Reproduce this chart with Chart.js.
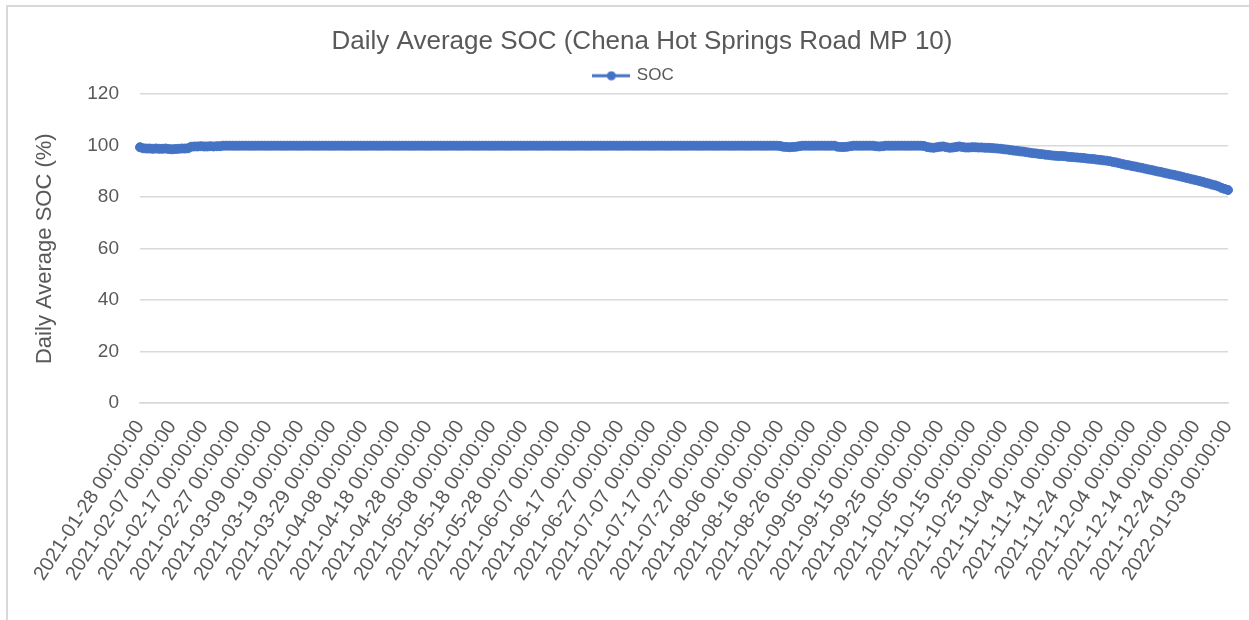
<!DOCTYPE html>
<html>
<head>
<meta charset="utf-8">
<title>Daily Average SOC</title>
<script src="https://cdn.jsdelivr.net/npm/chart.js@4.4.0/dist/chart.umd.min.js"></script>
<style>
  html, body { margin: 0; padding: 0; background: #fff; }
  #wrap { position: relative; width: 1249px; height: 620px; overflow: hidden; }
  #frame { position: absolute; left: 6px; top: 5px; width: 1300px; height: 700px;
           border: 2px solid #d9d9d9; pointer-events: none; }
</style>
</head>
<body>
<div id="wrap">
  <canvas id="socChart" width="1249" height="620"></canvas>
  <div id="frame"></div>
</div>
<script>
// daily average state of charge, one value per day from 2021-01-28
const startDay = [2021, 0, 28];
const soc = [
    99.4, 99.0, 98.9, 98.9, 98.8, 98.9, 98.8, 98.8, 98.9, 98.7,
    98.6, 98.7, 98.8, 98.9, 98.9, 99.0, 99.6, 99.7, 99.7, 99.8,
    99.7, 99.7, 99.8, 99.7, 99.8, 99.8, 100, 100, 100, 100,
    100, 100, 100, 100, 100, 100, 100, 100, 100, 100,
    100, 100, 100, 100, 100, 100, 100, 100, 100, 100,
    100, 100, 100, 100, 100, 100, 100, 100, 100, 100,
    100, 100, 100, 100, 100, 100, 100, 100, 100, 100,
    100, 100, 100, 100, 100, 100, 100, 100, 100, 100,
    100, 100, 100, 100, 100, 100, 100, 100, 100, 100,
    100, 100, 100, 100, 100, 100, 100, 100, 100, 100,
    100, 100, 100, 100, 100, 100, 100, 100, 100, 100,
    100, 100, 100, 100, 100, 100, 100, 100, 100, 100,
    100, 100, 100, 100, 100, 100, 100, 100, 100, 100,
    100, 100, 100, 100, 100, 100, 100, 100, 100, 100,
    100, 100, 100, 100, 100, 100, 100, 100, 100, 100,
    100, 100, 100, 100, 100, 100, 100, 100, 100, 100,
    100, 100, 100, 100, 100, 100, 100, 100, 100, 100,
    100, 100, 100, 100, 100, 100, 100, 100, 100, 100,
    100, 100, 100, 100, 100, 100, 100, 100, 100, 100,
    100, 100, 100, 100, 100, 100, 100, 100, 100, 100,
    99.9, 99.6, 99.5, 99.4, 99.5, 99.6, 99.8, 100, 100, 100,
    100, 100, 100, 100, 100, 100, 100, 100, 99.6, 99.5,
    99.5, 99.6, 99.8, 100, 100, 100, 100, 100, 100, 100,
    99.8, 99.7, 99.8, 100, 100, 100, 100, 100, 100, 100,
    100, 100, 100, 100, 100, 99.9, 99.5, 99.3, 99.2, 99.4,
    99.6, 99.7, 99.4, 99.2, 99.3, 99.5, 99.7, 99.5, 99.3, 99.3,
    99.4, 99.4, 99.3, 99.3, 99.2, 99.2, 99.1, 99.0, 98.9, 98.8,
    98.6, 98.5, 98.3, 98.1, 98.0, 97.8, 97.7, 97.5, 97.3, 97.1,
    97.0, 96.8, 96.7, 96.5, 96.4, 96.2, 96.1, 96.0, 96.0, 95.9,
    95.7, 95.6, 95.5, 95.4, 95.3, 95.2, 95.0, 94.9, 94.8, 94.6,
    94.5, 94.3, 94.2, 94.0, 93.7, 93.5, 93.2, 92.9, 92.6, 92.4,
    92.1, 91.9, 91.6, 91.4, 91.1, 90.8, 90.6, 90.3, 90.0, 89.8,
    89.5, 89.2, 88.9, 88.7, 88.4, 88.1, 87.8, 87.5, 87.2, 86.9,
    86.6, 86.3, 86.0, 85.6, 85.3, 84.9, 84.6, 84.2, 83.6, 83.2,
    82.8
];
const labelStep = 10;   // a date label every 10 days
const yMin = 0, yMax = 120, yStep = 20;

// category labels: one per day
const days = [];
for (let i = 0; i < soc.length; i++) {
    const d = new Date(Date.UTC(startDay[0], startDay[1], startDay[2] + i));
    days.push(d.toISOString().slice(0, 10) + " 00:00:00");
}

const blue = "#4472C4";
const grey = "#595959";
const gridGrey = "#d9d9d9";

// legend sample: line with a dot, like the office style
function legendMark() {
    const c = document.createElement("canvas");
    c.width = 38; c.height = 10;
    const g = c.getContext("2d");
    g.strokeStyle = blue;
    g.lineWidth = 3;
    g.beginPath(); g.moveTo(0, 5); g.lineTo(38, 5); g.stroke();
    g.fillStyle = blue;
    g.beginPath(); g.arc(19, 5, 4.5, 0, Math.PI * 2); g.fill();
    return c;
}

// the original frame is wider than the visible picture, so its header sits a bit right of centre
const shiftHeader = {
    id: "shiftHeader",
    afterLayout(chart) {
        chart.titleBlock.left += 14;
        chart.titleBlock.right += 14;
        chart.legend.left += 6;
        chart.legend.right += 6;
    }
};

Chart.defaults.font.family = "'Liberation Sans', Arial, sans-serif";
Chart.defaults.color = grey;

new Chart(document.getElementById("socChart"), {
    type: "line",
    data: {
        labels: days,
        datasets: [{
            label: "SOC",
            data: soc,
            borderColor: blue,
            backgroundColor: blue,
            borderWidth: 2.5,
            pointRadius: 4.5,
            pointBorderWidth: 1,
            pointBackgroundColor: blue,
            pointBorderColor: blue,
            tension: 0
        }]
    },
    options: {
        responsive: false,
        animation: false,
        layout: { padding: { left: 28, right: 21, top: 0, bottom: 22 } },
        plugins: {
            title: {
                display: true,
                text: "Daily Average SOC (Chena Hot Springs Road MP 10)",
                color: grey,
                font: { size: 26, weight: "normal" },
                padding: { top: 26, bottom: 2 }
            },
            legend: {
                labels: {
                    usePointStyle: true,
                    pointStyle: legendMark(),
                    pointStyleWidth: 34,
                    color: grey,
                    font: { size: 17 },
                    padding: 8
                }
            },
            tooltip: { enabled: false }
        },
        scales: {
            x: {
                grid: { display: false, drawTicks: false },
                border: { display: true, color: gridGrey, width: 1.5 },
                ticks: {
                    autoSkip: false,
                    minRotation: 57,
                    maxRotation: 57,
                    padding: 13,
                    color: grey,
                    font: { size: 20 },
                    callback: function (v, i) {
                        return i % labelStep === 0 ? this.getLabelForValue(v) : "";
                    }
                },
                afterFit: function (scale) { scale.paddingRight = 0; }
            },
            y: {
                min: yMin,
                max: yMax,
                ticks: { stepSize: yStep, color: grey, font: { size: 19 }, padding: 21 },
                grid: { color: gridGrey, lineWidth: 1.5, drawTicks: false },
                border: { display: false },
                title: {
                    display: true,
                    text: "Daily Average SOC (%)",
                    color: grey,
                    font: { size: 22 },
                    padding: { top: 4, bottom: 4 }
                },
                afterFit: function (scale) { scale.width = 112; }
            }
        }
    },
    plugins: [shiftHeader]
});
</script>
</body>
</html>
